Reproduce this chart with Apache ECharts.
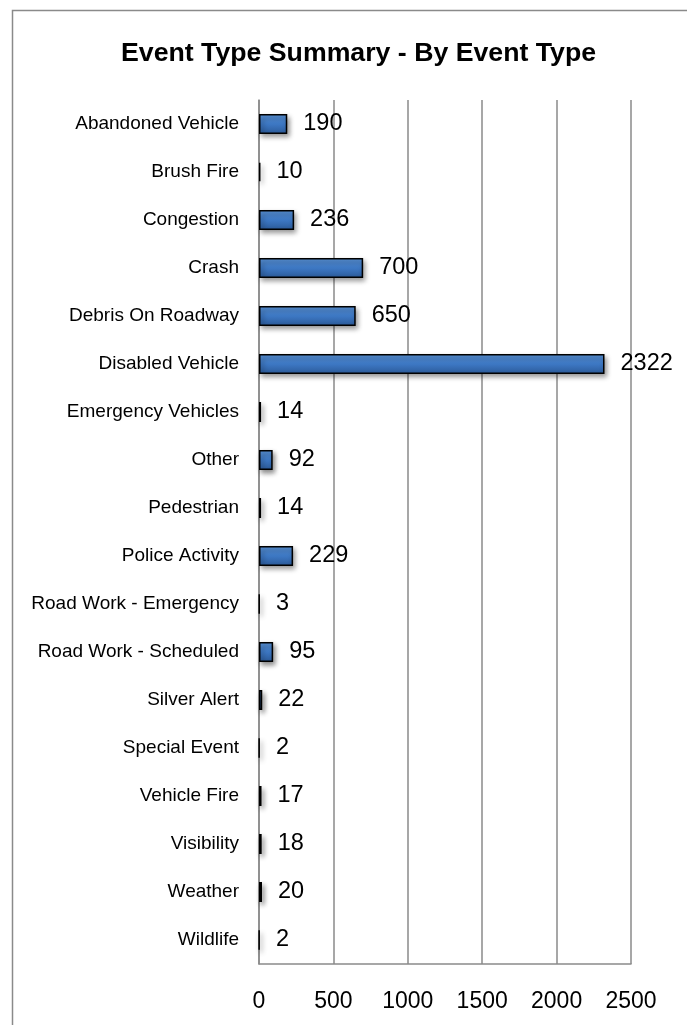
<!DOCTYPE html>
<html><head><meta charset="utf-8">
<script src="https://cdn.jsdelivr.net/npm/echarts@6/dist/echarts.min.js"></script>
<style>html,body{margin:0;padding:0;background:#fff}#c{width:687px;height:1025px}</style>
</head><body><div id="c"></div>
<script>
const titleText = 'Event Type Summary - By Event Type';
const categories = ['Abandoned Vehicle','Brush Fire','Congestion','Crash','Debris On Roadway','Disabled Vehicle','Emergency Vehicles','Other','Pedestrian','Police Activity','Road Work - Emergency','Road Work - Scheduled','Silver Alert','Special Event','Vehicle Fire','Visibility','Weather','Wildlife'];
const values = [190,10,236,700,650,2322,14,92,14,229,3,95,22,2,17,18,20,2];
const xTicks = [0,500,1000,1500,2000,2500];

const FONT = '"Liberation Sans", Arial, sans-serif';
const chart = echarts.init(document.getElementById('c'), null, {renderer:'canvas'});
chart.setOption({
  animation: false,
  backgroundColor: '#fff',
  graphic: [{
    type: 'rect', left: 10, top: 8, silent: true,
    shape: {width: 676, height: 1100},
    style: {fill: 'none', stroke: '#8a8a8a', lineWidth: 1.5}
  }],
  title: {
    text: titleText, left: 116, top: 35,
    textStyle: {fontFamily: FONT, fontWeight: 'bold', fontSize: 26.7, color: '#000'}
  },
  grid: {left: 259, right: 56, top: 100, bottom: 61},
  xAxis: {
    type: 'value', min: xTicks[0], max: xTicks[xTicks.length-1], interval: 500,
    axisLine: {show: true, lineStyle: {color: '#8a8a8a', width: 1.5}},
    axisTick: {show: false},
    splitLine: {show: true, lineStyle: {color: '#8a8a8a', width: 1.5}},
    axisLabel: {fontFamily: FONT, fontSize: 23, color: '#000', margin: 26,
      formatter: v => String(v)}
  },
  yAxis: {
    type: 'category', data: categories, inverse: true,
    axisLine: {show: true, lineStyle: {color: '#8a8a8a', width: 1.5}},
    axisTick: {show: false},
    axisLabel: {fontFamily: FONT, fontSize: 19, color: '#000', margin: 20}
  },
  series: [{
    type: 'bar', data: values, barWidth: 20,
    itemStyle: {
      color: new echarts.graphic.LinearGradient(0,0,0,1,[
        {offset:0,color:'#5b95da'},{offset:0.5,color:'#3d78c4'},{offset:1,color:'#2b5a99'}]),
      borderColor: '#000', borderWidth: 1.5,
      shadowColor: 'rgba(0,0,0,0.45)', shadowBlur: 5, shadowOffsetX: 2, shadowOffsetY: 3
    },
    label: {show: true, position: 'right', distance: 16, fontFamily: FONT, fontSize: 23.5, color: '#000'}
  }]
});
</script></body></html>
